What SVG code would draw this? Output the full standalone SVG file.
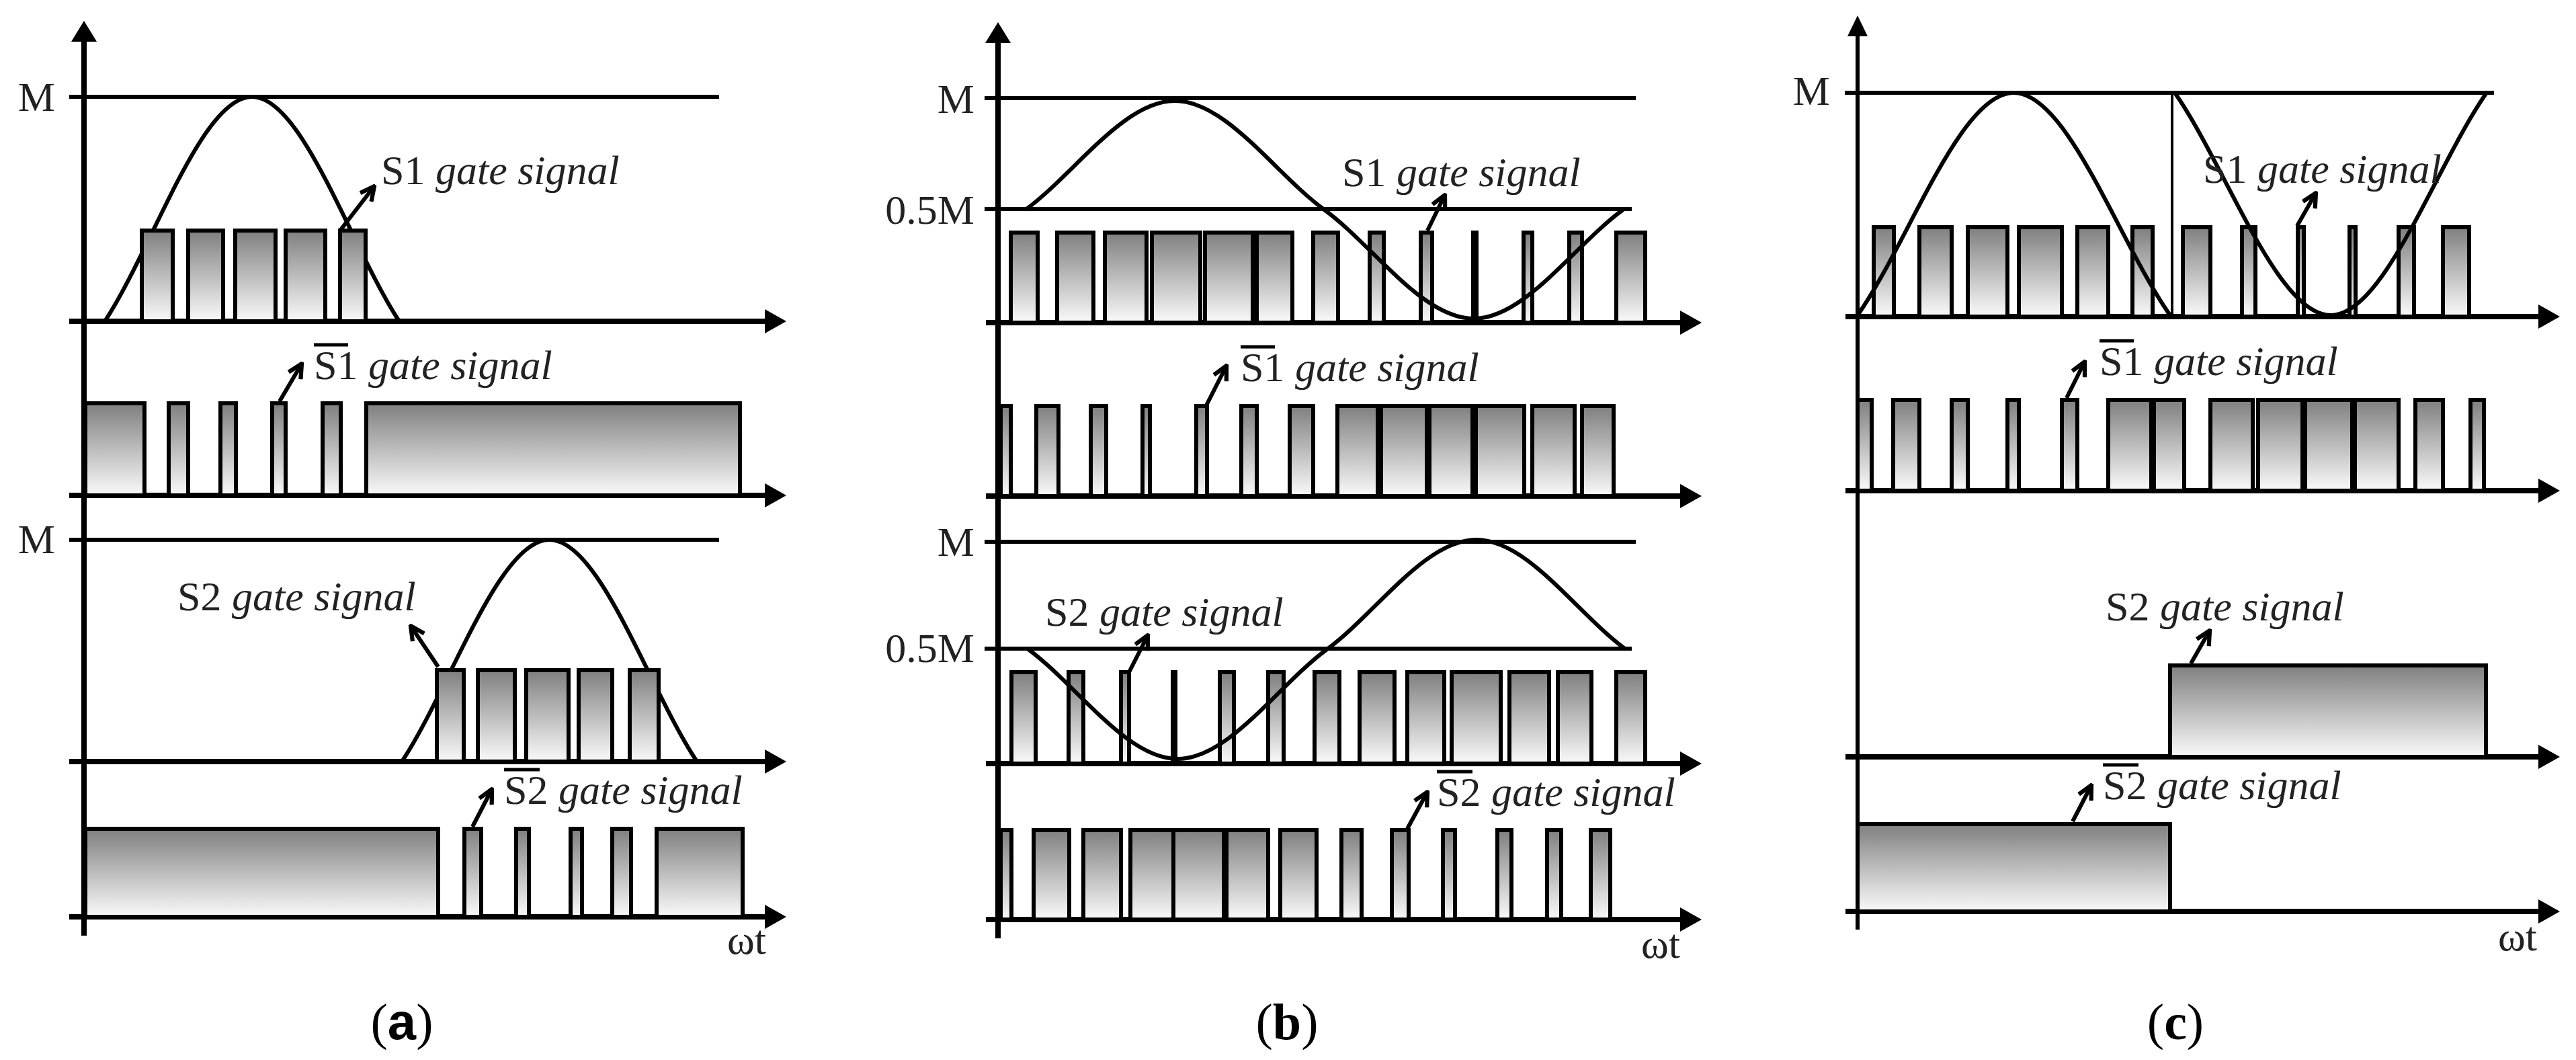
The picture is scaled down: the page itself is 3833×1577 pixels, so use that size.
<svg xmlns="http://www.w3.org/2000/svg" width="3833" height="1577" viewBox="0 0 3833 1577">
<defs>
<linearGradient id="g" x1="0" y1="0" x2="0" y2="1"><stop offset="0" stop-color="#7f7f7f"/><stop offset="1" stop-color="#fafafa"/></linearGradient>
<marker id="ah" viewBox="0 0 10 10" refX="9" refY="5" markerWidth="26" markerHeight="26" orient="auto" markerUnits="userSpaceOnUse"><path d="M1,1 L9,5 L1,9" fill="none" stroke="#000" stroke-width="2.4"/></marker>
</defs>
<style>
.ax{stroke:#000;stroke-width:8;fill:none}
.lv{stroke:#000;stroke-width:6;fill:none}
.cv{stroke:#000;stroke-width:6;fill:none}
.p{fill:url(#g);stroke:#000;stroke-width:6}
.t{font-family:"Liberation Serif",serif;font-size:62px;fill:#222}
.i{font-style:italic}
.la{stroke:#000;stroke-width:6;fill:none}
.ah{fill:#000}
.cap{font-family:"Liberation Serif",serif;font-size:76px;fill:#000}
.ol{stroke:#000;stroke-width:5}
</style>
<rect width="3833" height="1577" fill="#fff"/>

<g id="panel-a">
<path class="ax" d="M125,60 V1392 M103,478 H1140 M103,737 H1140 M103,1133 H1140 M103,1364 H1140"/>
<path class="ah" d="M106,62 L125,31 L144,62 Z M1138,460 L1170,478 L1138,496 Z M1138,719 L1170,737 L1138,755 Z M1138,1115 L1170,1133 L1138,1151 Z M1138,1346 L1170,1364 L1138,1382 Z"/>
<path class="lv" d="M103,144 H1070 M103,803 H1070"/>
<text class="t" x="82" y="165" text-anchor="end">M</text>
<text class="t" x="82" y="823" text-anchor="end">M</text>
<path class="cv" d="M156,478 C227.4,369.1 299.6,144 375,144 C450.4,144 522.6,369.1 594,478"/>
<path class="cv" d="M598,1133 C669.6,1025.4 741.9,803 817.5,803 C893.1,803 965.4,1025.4 1037,1133"/>
<g class="p">
<rect x="211" y="343" width="46" height="135"/><rect x="280" y="343" width="52" height="135"/><rect x="350" y="343" width="60" height="135"/><rect x="425" y="343" width="59" height="135"/><rect x="506" y="343" width="38" height="135"/>
<rect x="127" y="600" width="88" height="137"/><rect x="251" y="600" width="29" height="137"/><rect x="328" y="600" width="23" height="137"/><rect x="405" y="600" width="20" height="137"/><rect x="480" y="600" width="27" height="137"/><rect x="545" y="600" width="556" height="137"/>
<rect x="650" y="997" width="40" height="136"/><rect x="711" y="997" width="55" height="136"/><rect x="783" y="997" width="63" height="136"/><rect x="861" y="997" width="50" height="136"/><rect x="937" y="997" width="43" height="136"/>
<rect x="127" y="1233" width="525" height="131"/><rect x="691" y="1233" width="25" height="131"/><rect x="768" y="1233" width="19" height="131"/><rect x="849" y="1233" width="17" height="131"/><rect x="911" y="1233" width="28" height="131"/><rect x="977" y="1233" width="128" height="131"/>
</g>
<text class="t" x="567" y="274">S1 <tspan class="i">gate signal</tspan></text>
<text class="t" x="467" y="564">S1 <tspan class="i">gate signal</tspan></text><line class="ol" x1="467" y1="513" x2="518" y2="513"/>
<text class="t" x="264" y="908">S2 <tspan class="i">gate signal</tspan></text>
<text class="t" x="750" y="1196">S2 <tspan class="i">gate signal</tspan></text><line class="ol" x1="750" y1="1145" x2="803" y2="1145"/>
<text class="t" x="1082" y="1419">ωt</text>
<text class="cap" x="598" y="1546" text-anchor="middle">(<tspan font-weight="bold" font-family="Liberation Sans,sans-serif">a</tspan>)</text>
</g>

<g id="panel-b">
<path class="ax" d="M1485,62 V1396 M1467,480 H2502 M1467,738 H2502 M1467,1136 H2502 M1467,1368 H2502"/>
<path class="ah" d="M1466,64 L1485,33 L1504,64 Z M2500,462 L2532,480 L2500,498 Z M2500,720 L2532,738 L2500,756 Z M2500,1118 L2532,1136 L2500,1154 Z M2500,1350 L2532,1368 L2500,1386 Z"/>
<path class="lv" d="M1465,146 H2434 M1465,311 H2428 M1465,806 H2434 M1465,965 H2428"/>
<text class="t" x="1450" y="168" text-anchor="end">M</text>
<text class="t" x="1450" y="333" text-anchor="end">0.5M</text>
<text class="t" x="1450" y="827" text-anchor="end">M</text>
<text class="t" x="1450" y="985" text-anchor="end">0.5M</text>
<g class="p">
<rect x="1504" y="346" width="40" height="134"/><rect x="1573" y="346" width="54" height="134"/><rect x="1644" y="346" width="62" height="134"/><rect x="1714" y="346" width="72" height="134"/><rect x="1793" y="346" width="71" height="134"/><rect x="1870" y="346" width="53" height="134"/><rect x="1954" y="346" width="37" height="134"/><rect x="2038" y="346" width="21" height="134"/><rect x="2114" y="346" width="17" height="134"/><rect x="2192" y="346" width="5" height="134"/><rect x="2267" y="346" width="13" height="134"/><rect x="2335" y="346" width="19" height="134"/><rect x="2405" y="346" width="43" height="134"/>
<rect x="1489" y="604" width="15" height="134"/><rect x="1542" y="604" width="33" height="134"/><rect x="1623" y="604" width="23" height="134"/><rect x="1700" y="604" width="11" height="134"/><rect x="1780" y="604" width="16" height="134"/><rect x="1847" y="604" width="23" height="134"/><rect x="1919" y="604" width="35" height="134"/><rect x="1990" y="604" width="60" height="134"/><rect x="2055" y="604" width="68" height="134"/><rect x="2127" y="604" width="64" height="134"/><rect x="2196" y="604" width="72" height="134"/><rect x="2280" y="604" width="63" height="134"/><rect x="2354" y="604" width="47" height="134"/>
<rect x="1505" y="1000" width="36" height="136"/><rect x="1590" y="1000" width="22" height="136"/><rect x="1668" y="1000" width="12" height="136"/><rect x="1745" y="1000" width="4" height="136"/><rect x="1815" y="1000" width="21" height="136"/><rect x="1887" y="1000" width="23" height="136"/><rect x="1956" y="1000" width="37" height="136"/><rect x="2023" y="1000" width="52" height="136"/><rect x="2094" y="1000" width="55" height="136"/><rect x="2160" y="1000" width="73" height="136"/><rect x="2246" y="1000" width="59" height="136"/><rect x="2318" y="1000" width="50" height="136"/><rect x="2405" y="1000" width="43" height="136"/>
<rect x="1489" y="1235" width="16" height="133"/><rect x="1538" y="1235" width="53" height="133"/><rect x="1612" y="1235" width="56" height="133"/><rect x="1682" y="1235" width="64" height="133"/><rect x="1746" y="1235" width="75" height="133"/><rect x="1825" y="1235" width="62" height="133"/><rect x="1905" y="1235" width="54" height="133"/><rect x="1996" y="1235" width="30" height="133"/><rect x="2071" y="1235" width="25" height="133"/><rect x="2147" y="1235" width="18" height="133"/><rect x="2228" y="1235" width="21" height="133"/><rect x="2302" y="1235" width="21" height="133"/><rect x="2367" y="1235" width="29" height="133"/>
</g>
<path class="cv" d="M1526,312 C1598.45,259.2 1671.7,150 1748.25,150 C1824.8,150 1898.05,259.2 1970.5,312 C2042.95,364.8 2116.2,474 2192.75,474 C2269.3,474 2342.55,364.8 2415,312"/>
<path class="cv" d="M1530,966 C1602.45,1019.1 1675.7,1129 1752.25,1129 C1828.8,1129 1902.05,1019.1 1974.5,966 C2046.95,912.9 2120.2,803 2196.75,803 C2273.3,803 2346.55,912.9 2419,966"/>
<text class="t" x="1997" y="277">S1 <tspan class="i">gate signal</tspan></text>
<text class="t" x="1846" y="567">S1 <tspan class="i">gate signal</tspan></text><line class="ol" x1="1846" y1="516" x2="1897" y2="516"/>
<text class="t" x="1555" y="931">S2 <tspan class="i">gate signal</tspan></text>
<text class="t" x="2138" y="1199">S2 <tspan class="i">gate signal</tspan></text><line class="ol" x1="2138" y1="1148" x2="2191" y2="1148"/>
<text class="t" x="2442" y="1425">ωt</text>
<text class="cap" x="1915" y="1546" text-anchor="middle">(<tspan font-weight="bold">b</tspan>)</text>
</g>

<g id="panel-c">
<path class="ax" d="M2746,471 H3779 M2746,730 H3779 M2746,1126 H3779 M2746,1356 H3779"/>
<path class="lv" d="M2764,52 V1383"/>
<path class="ah" d="M2749,54 L2764,23 L2779,54 Z M3777,453 L3809,471 L3777,489 Z M3777,712 L3809,730 L3777,748 Z M3777,1108 L3809,1126 L3777,1144 Z M3777,1338 L3809,1356 L3777,1374 Z"/>
<path class="lv" d="M2745,138 H3711"/>
<text class="t" x="2723" y="156" text-anchor="end">M</text>
<g class="p">
<rect x="2788" y="338" width="30" height="133"/><rect x="2856" y="338" width="48" height="133"/><rect x="2928" y="338" width="59" height="133"/><rect x="3004" y="338" width="64" height="133"/><rect x="3091" y="338" width="46" height="133"/><rect x="3173" y="338" width="30" height="133"/><rect x="3248" y="338" width="41" height="133"/><rect x="3336" y="338" width="20" height="133"/><rect x="3419" y="338" width="9" height="133"/><rect x="3496" y="338" width="9" height="133"/><rect x="3569" y="338" width="23" height="133"/><rect x="3635" y="338" width="39" height="133"/>
<rect x="2764" y="595" width="21" height="135"/><rect x="2817" y="595" width="39" height="135"/><rect x="2904" y="595" width="24" height="135"/><rect x="2987" y="595" width="17" height="135"/><rect x="3068" y="595" width="23" height="135"/><rect x="3137" y="595" width="64" height="135"/><rect x="3205" y="595" width="45" height="135"/><rect x="3289" y="595" width="63" height="135"/><rect x="3360" y="595" width="66" height="135"/><rect x="3430" y="595" width="70" height="135"/><rect x="3504" y="595" width="65" height="135"/><rect x="3594" y="595" width="41" height="135"/><rect x="3676" y="595" width="20" height="135"/>
<rect x="3229" y="990" width="470" height="136"/>
<rect x="2764" y="1226" width="465" height="130"/>
</g>
<path class="cv" d="M2764,469 C2839.8,361.1 2916.4,138 2996.5,138 C3076.6,138 3153.2,361.1 3229,469"/>
<path class="lv" d="M3232,138 V469" style="stroke-width:4"/>
<path class="cv" d="M3236,138 C3311.6,245.9 3388.1,469 3468,469 C3547.9,469 3624.4,245.9 3700,138"/>
<text class="t" x="3278" y="272">S1 <tspan class="i">gate signal</tspan></text>
<text class="t" x="3124" y="558">S1 <tspan class="i">gate signal</tspan></text><line class="ol" x1="3124" y1="507" x2="3175" y2="507"/>
<text class="t" x="3133" y="923">S2 <tspan class="i">gate signal</tspan></text>
<text class="t" x="3129" y="1189">S2 <tspan class="i">gate signal</tspan></text><line class="ol" x1="3129" y1="1138" x2="3182" y2="1138"/>
<text class="t" x="3717" y="1414">ωt</text>
<text class="cap" x="3237" y="1546" text-anchor="middle">(<tspan font-weight="bold">c</tspan>)</text>
</g>

<g id="connectors">
<g class="la" marker-end="url(#ah)">
<path d="M506,343 L557,277"/><path d="M416,597 L449,541"/><path d="M652,992 L611,931"/><path d="M703,1230 L732,1174"/>
<path d="M2124,343 L2150,290"/><path d="M1795,603 L1825,544"/><path d="M1680,1000 L1708,945"/><path d="M2094,1233 L2124,1178"/>
<path d="M3418,336 L3446,287"/><path d="M3075,592 L3102,538"/><path d="M3260,987 L3288,938"/><path d="M3084,1222 L3112,1168"/>
</g>
</g>
</svg>
